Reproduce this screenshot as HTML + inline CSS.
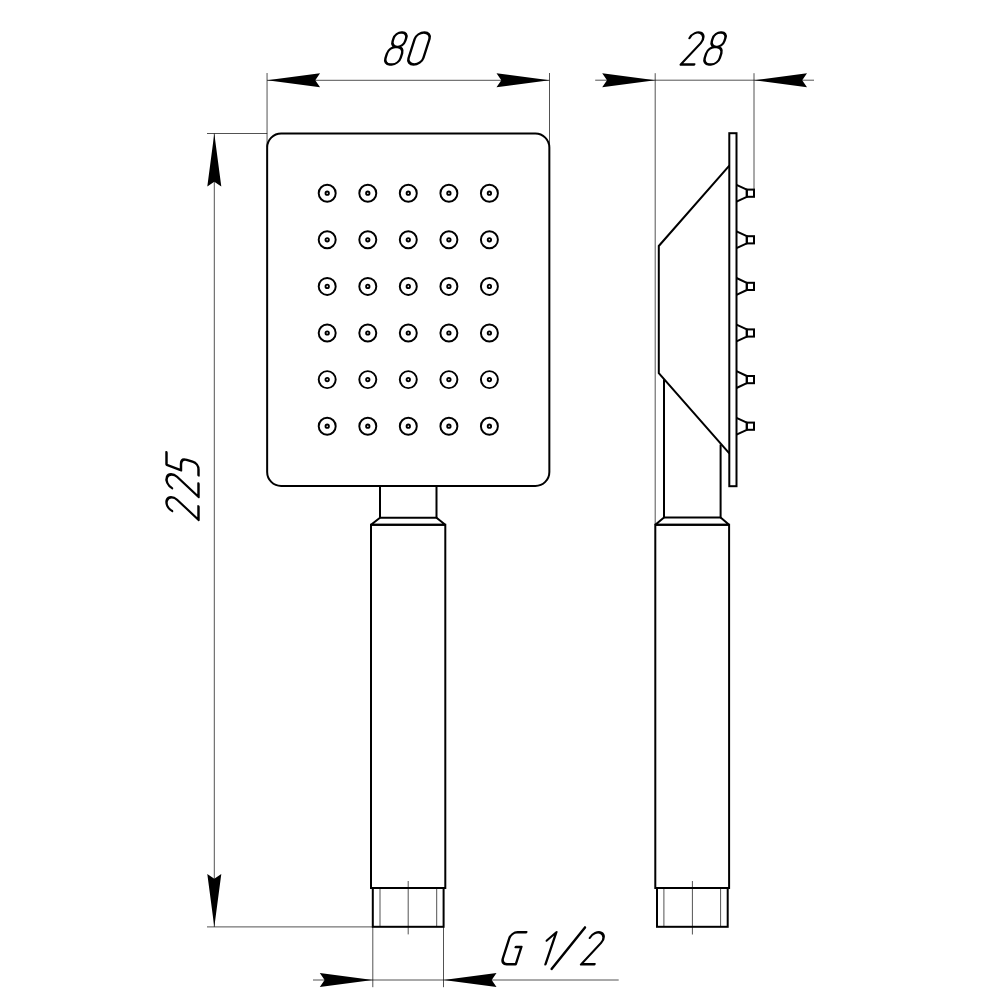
<!DOCTYPE html>
<html><head><meta charset="utf-8"><title>Hand shower drawing</title>
<style>
html,body{margin:0;padding:0;background:#fff;}
body{width:1000px;height:1000px;overflow:hidden;font-family:"Liberation Sans",sans-serif;}
svg{display:block;}
</style></head><body>
<svg width="1000" height="1000" viewBox="0 0 1000 1000">
<rect width="1000" height="1000" fill="#fff"/>
<g fill="none" stroke="#000" stroke-width="0.68">
<line x1="380" y1="888" x2="380" y2="926.8"/>
<line x1="436.7" y1="888" x2="436.7" y2="926.8"/>
<line x1="408.2" y1="881" x2="408.2" y2="934.4"/>
<line x1="663.9" y1="888" x2="663.9" y2="926.8"/>
<line x1="720.6" y1="888" x2="720.6" y2="926.8"/>
<line x1="692.4" y1="881" x2="692.4" y2="934.5"/>
<line x1="267.05" y1="73" x2="267.05" y2="147"/>
<line x1="549.5" y1="73" x2="549.5" y2="147"/>
<line x1="267.05" y1="80.3" x2="549.5" y2="80.3"/>
<line x1="655.2" y1="73.2" x2="655.2" y2="524.8"/>
<line x1="754" y1="73.2" x2="754" y2="189.6"/>
<line x1="595.2" y1="80.2" x2="814" y2="80.2"/>
<line x1="207" y1="133.5" x2="267.2" y2="133.5"/>
<line x1="207" y1="926.9" x2="372.8" y2="926.9"/>
<line x1="214.3" y1="133.5" x2="214.3" y2="926.9"/>
<line x1="372.8" y1="926.8" x2="372.8" y2="987.2"/>
<line x1="443.5" y1="926.8" x2="443.5" y2="987.2"/>
<line x1="313" y1="980" x2="618.7" y2="980"/>
</g>
<g fill="none" stroke="#000" stroke-width="2.0" stroke-linejoin="miter">
<rect x="267.15" y="133.5" width="282.2" height="352.5" rx="14" ry="14"/>
<polyline points="380,485.8 380,517.8 436.5,517.8 436.5,485.8"/>
<polyline stroke-linejoin="bevel" points="380,517.8 371,524.8 445.3,524.8 436.5,517.8"/>
<rect x="371" y="524.8" width="74.3" height="363.2"/>
<rect x="372.8" y="888" width="70.8" height="38.8"/>
<rect x="729.3" y="133.2" width="7.2" height="353"/>
<polyline points="729.3,165.6 658.8,246 658.8,373.2 729.3,453.4"/>
<polyline points="664,379.2 664,517.6 720.6,517.6 720.6,444.4"/>
<polyline stroke-linejoin="bevel" points="664,517.6 655.3,524.8 729.1,524.8 720.6,517.6"/>
<rect x="655.3" y="524.8" width="73.8" height="363.2"/>
<rect x="657" y="888" width="70.7" height="38.8"/>
<polyline points="736.5,184.8 746.8,189.6 746.8,196.8 736.5,201.6"/>
<rect x="746.8" y="189.6" width="7.2" height="7.2"/>
<polyline points="736.5,231.4 746.8,236.2 746.8,243.4 736.5,248.2"/>
<rect x="746.8" y="236.2" width="7.2" height="7.2"/>
<polyline points="736.5,278 746.8,282.8 746.8,290 736.5,294.8"/>
<rect x="746.8" y="282.8" width="7.2" height="7.2"/>
<polyline points="736.5,324.6 746.8,329.4 746.8,336.6 736.5,341.4"/>
<rect x="746.8" y="329.4" width="7.2" height="7.2"/>
<polyline points="736.5,371.2 746.8,376 746.8,383.2 736.5,388"/>
<rect x="746.8" y="376" width="7.2" height="7.2"/>
<polyline points="736.5,417.8 746.8,422.6 746.8,429.8 736.5,434.6"/>
<rect x="746.8" y="422.6" width="7.2" height="7.2"/>
</g>
<g fill="none" stroke="#000" stroke-width="1.95">
<circle cx="327.2" cy="193.2" r="8.5"/>
<circle cx="327.2" cy="193.2" r="1.7" stroke-width="1.85"/>
<circle cx="367.8" cy="193.2" r="8.5"/>
<circle cx="367.8" cy="193.2" r="1.7" stroke-width="1.85"/>
<circle cx="408.3" cy="193.2" r="8.5"/>
<circle cx="408.3" cy="193.2" r="1.7" stroke-width="1.85"/>
<circle cx="448.9" cy="193.2" r="8.5"/>
<circle cx="448.9" cy="193.2" r="1.7" stroke-width="1.85"/>
<circle cx="489.4" cy="193.2" r="8.5"/>
<circle cx="489.4" cy="193.2" r="1.7" stroke-width="1.85"/>
<circle cx="327.2" cy="239.8" r="8.5"/>
<circle cx="327.2" cy="239.8" r="1.7" stroke-width="1.85"/>
<circle cx="367.8" cy="239.8" r="8.5"/>
<circle cx="367.8" cy="239.8" r="1.7" stroke-width="1.85"/>
<circle cx="408.3" cy="239.8" r="8.5"/>
<circle cx="408.3" cy="239.8" r="1.7" stroke-width="1.85"/>
<circle cx="448.9" cy="239.8" r="8.5"/>
<circle cx="448.9" cy="239.8" r="1.7" stroke-width="1.85"/>
<circle cx="489.4" cy="239.8" r="8.5"/>
<circle cx="489.4" cy="239.8" r="1.7" stroke-width="1.85"/>
<circle cx="327.2" cy="286.4" r="8.5"/>
<circle cx="327.2" cy="286.4" r="1.7" stroke-width="1.85"/>
<circle cx="367.8" cy="286.4" r="8.5"/>
<circle cx="367.8" cy="286.4" r="1.7" stroke-width="1.85"/>
<circle cx="408.3" cy="286.4" r="8.5"/>
<circle cx="408.3" cy="286.4" r="1.7" stroke-width="1.85"/>
<circle cx="448.9" cy="286.4" r="8.5"/>
<circle cx="448.9" cy="286.4" r="1.7" stroke-width="1.85"/>
<circle cx="489.4" cy="286.4" r="8.5"/>
<circle cx="489.4" cy="286.4" r="1.7" stroke-width="1.85"/>
<circle cx="327.2" cy="333" r="8.5"/>
<circle cx="327.2" cy="333" r="1.7" stroke-width="1.85"/>
<circle cx="367.8" cy="333" r="8.5"/>
<circle cx="367.8" cy="333" r="1.7" stroke-width="1.85"/>
<circle cx="408.3" cy="333" r="8.5"/>
<circle cx="408.3" cy="333" r="1.7" stroke-width="1.85"/>
<circle cx="448.9" cy="333" r="8.5"/>
<circle cx="448.9" cy="333" r="1.7" stroke-width="1.85"/>
<circle cx="489.4" cy="333" r="8.5"/>
<circle cx="489.4" cy="333" r="1.7" stroke-width="1.85"/>
<circle cx="327.2" cy="379.6" r="8.5"/>
<circle cx="327.2" cy="379.6" r="1.7" stroke-width="1.85"/>
<circle cx="367.8" cy="379.6" r="8.5"/>
<circle cx="367.8" cy="379.6" r="1.7" stroke-width="1.85"/>
<circle cx="408.3" cy="379.6" r="8.5"/>
<circle cx="408.3" cy="379.6" r="1.7" stroke-width="1.85"/>
<circle cx="448.9" cy="379.6" r="8.5"/>
<circle cx="448.9" cy="379.6" r="1.7" stroke-width="1.85"/>
<circle cx="489.4" cy="379.6" r="8.5"/>
<circle cx="489.4" cy="379.6" r="1.7" stroke-width="1.85"/>
<circle cx="327.2" cy="426.2" r="8.5"/>
<circle cx="327.2" cy="426.2" r="1.7" stroke-width="1.85"/>
<circle cx="367.8" cy="426.2" r="8.5"/>
<circle cx="367.8" cy="426.2" r="1.7" stroke-width="1.85"/>
<circle cx="408.3" cy="426.2" r="8.5"/>
<circle cx="408.3" cy="426.2" r="1.7" stroke-width="1.85"/>
<circle cx="448.9" cy="426.2" r="8.5"/>
<circle cx="448.9" cy="426.2" r="1.7" stroke-width="1.85"/>
<circle cx="489.4" cy="426.2" r="8.5"/>
<circle cx="489.4" cy="426.2" r="1.7" stroke-width="1.85"/>
</g>
<g fill="#000" stroke="none">
<polygon points="267.05,80.3 320.05,73.3 315.25,80.3 320.05,87.3"/>
<polygon points="549.5,80.3 496.5,87.3 501.3,80.3 496.5,73.3"/>
<polygon points="655.2,80.2 602.2,87.2 607,80.2 602.2,73.2"/>
<polygon points="754,80.2 807,73.2 802.2,80.2 807,87.2"/>
<polygon points="214.3,133.5 221.3,186.5 214.3,181.7 207.3,186.5"/>
<polygon points="214.3,926.9 207.3,873.9 214.3,878.7 221.3,873.9"/>
<polygon points="372.8,980 319.8,987 324.6,980 319.8,973"/>
<polygon points="443.5,980 496.5,973 491.7,980 496.5,987"/>
</g>
<g fill="none" stroke="#000" stroke-width="2.45" stroke-linecap="round" stroke-linejoin="round">
<path transform="translate(383.45,64.4) skewX(-17.74)" d="M6.5,-17.5 H8.6 A6.5,6.5 0 0 1 15.1,-11 V-6.5 A6.5,6.5 0 0 1 8.6,0 H6.5 A6.5,6.5 0 0 1 0,-6.5 V-11 A6.5,6.5 0 0 1 6.5,-17.5 Z M7.58,-31.9 H8.52 A5.8,5.8 0 0 1 14.32,-26.1 V-23.3 A5.8,5.8 0 0 1 8.52,-17.5 H7.58 A5.8,5.8 0 0 1 1.78,-23.3 V-26.1 A5.8,5.8 0 0 1 7.58,-31.9 Z"/>
<path transform="translate(406.5,64.4) skewX(-17.74)" d="M0,-25.5 V-6.5 A7.4,6.5 0 0 0 7.4,0 A7.4,6.5 0 0 0 14.8,-6.5 V-25.5 A7.4,6.5 0 0 0 7.4,-32 A7.4,6.5 0 0 0 0,-25.5 Z"/>
<path transform="translate(680.8,64.4) skewX(-17.74)" d="M0.35,-26.46 A7,7 0 1 1 13.16,-21.32 L0,0 H13.4"/>
<path transform="translate(702.65,64.4) skewX(-17.74)" d="M6.5,-17.5 H8.6 A6.5,6.5 0 0 1 15.1,-11 V-6.5 A6.5,6.5 0 0 1 8.6,0 H6.5 A6.5,6.5 0 0 1 0,-6.5 V-11 A6.5,6.5 0 0 1 6.5,-17.5 Z M7.58,-31.9 H8.52 A5.8,5.8 0 0 1 14.32,-26.1 V-23.3 A5.8,5.8 0 0 1 8.52,-17.5 H7.58 A5.8,5.8 0 0 1 1.78,-23.3 V-26.1 A5.8,5.8 0 0 1 7.58,-31.9 Z"/>
<path transform="translate(198.5,521) rotate(-90) translate(1.2,0) skewX(-17.74)" d="M0.35,-26.46 A7,7 0 1 1 13.16,-21.32 L0,0 H13.4"/>
<path transform="translate(198.5,521) rotate(-90) translate(24.1,0) skewX(-17.74)" d="M0.35,-26.46 A7,7 0 1 1 13.16,-21.32 L0,0 H13.4"/>
<path transform="translate(198.5,521) rotate(-90) translate(45.2,0) skewX(-17.74)" d="M13.3,-32 H0.8 L0,-17.5 H5.8 C9.8,-17.5 12.2,-15.2 12.2,-11.4 V-5.6 C12.2,-2.2 9.9,0 6.6,0 H0.4"/>
<path transform="translate(501,964.3) skewX(-17.74)" d="M15,-32 H6 C2.6,-32 0,-29.4 0,-26 V-6 C0,-2.6 2.6,0 6,0 H14.8 V-17.3 H9.2"/>
<path transform="translate(539.2,964.3) skewX(-17.74)" d="M0,-23.8 L6.9,-32 L6.3,0"/>
<line x1="551.6" y1="968.9" x2="585" y2="927.4"/>
<path transform="translate(581.1,964.3) skewX(-17.74)" d="M0.35,-26.46 A7,7 0 1 1 13.16,-21.32 L0,0 H13.4"/>
</g>
</svg>
</body></html>
